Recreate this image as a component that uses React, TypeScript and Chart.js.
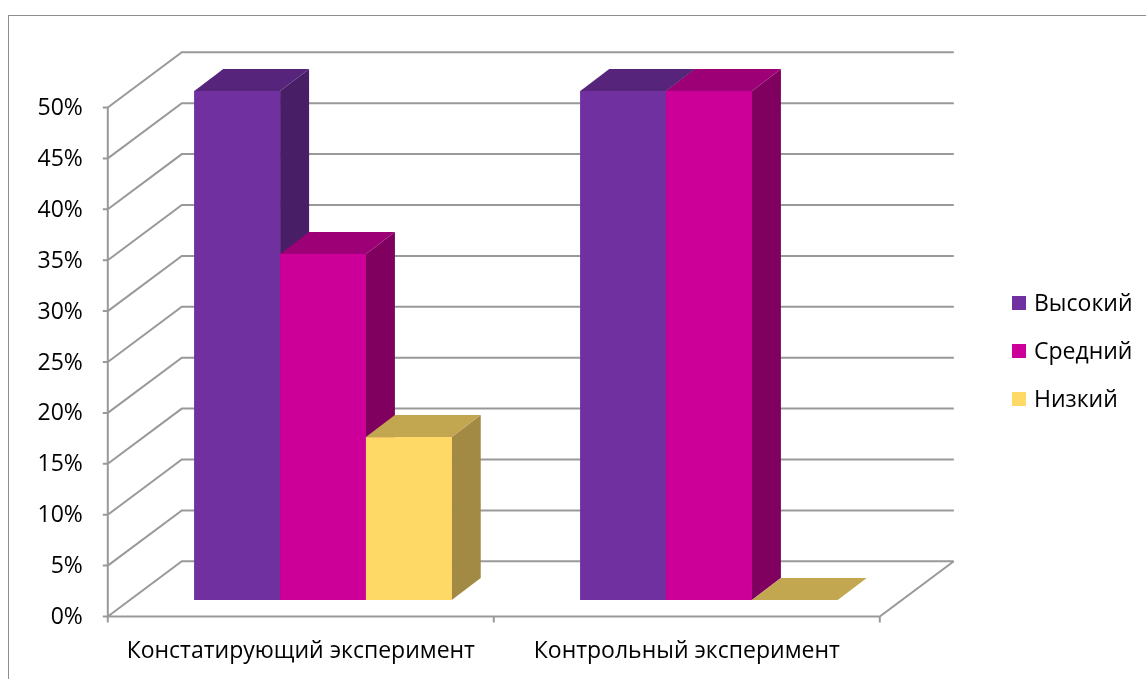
import React, { useEffect, useRef } from "react";
import { Chart, registerables } from "chart.js";

Chart.register(...registerables);

const categories: string[] = ["Констатирующий эксперимент", "Контрольный эксперимент"];
const seriesNames: string[] = ["Высокий", "Средний", "Низкий"];
const highValues: number[] = [0.5, 0.5];
const midValues: number[] = [0.34, 0.5];
const lowValues: number[] = [0.16, 0];
const yTicks: number[] = [0, 0.05, 0.1, 0.15, 0.2, 0.25, 0.3, 0.35, 0.4, 0.45, 0.5];
const yTickLabels: string[] = ["0%", "5%", "10%", "15%", "20%", "25%", "30%", "35%", "40%", "45%", "50%"];

const frontColors = ["#7030A0", "#CC0099", "#FFD966"];
const topColors = ["#56257B", "#9D0076", "#C2A650"];
const sideColors = ["#481E67", "#80005F", "#A28A45"];

const FONT = '23px "Open Sans", "Noto Sans", sans-serif';
const GRID = "#999999";
// depth geometry
const FRONT_DX = -22.2;
const FRONT_DY = 16.5;
const BACK_DX = 51.8;
const BACK_DY = -38.7;
const BAR_DX = 29;
const BAR_DY = 22;

const threeD = {
  id: "threeD",
  beforeDatasetsDraw(chart: any) {
    const { ctx, scales } = chart;
    const ys = scales.y;
    const xs = scales.x;
    const area = chart.chartArea;
    const fl = area.left + FRONT_DX;
    const fr = area.right + FRONT_DX;
    const bl = area.left + BACK_DX;
    const br = area.right + BACK_DX;
    ctx.save();
    // frame
    ctx.strokeStyle = "#8e8e8e";
    ctx.lineWidth = 1;
    ctx.strokeRect(8.5, 15.5, 1300, 800);

    ctx.strokeStyle = GRID;
    ctx.lineWidth = 2;
    ctx.beginPath();
    yTicks.forEach((v) => {
      const p = ys.getPixelForValue(v);
      const yf = p + FRONT_DY;
      const yb = p + BACK_DY;
      ctx.moveTo(fl, yf);
      ctx.lineTo(bl, yb);
      ctx.lineTo(br, yb);
      // tick mark
      ctx.moveTo(fl - 5, yf);
      ctx.lineTo(fl, yf);
    });
    const y0 = ys.getPixelForValue(0);
    const yTop = ys.getPixelForValue(yTicks[yTicks.length - 1]);
    // floor
    ctx.moveTo(fl, y0 + FRONT_DY);
    ctx.lineTo(fr, y0 + FRONT_DY);
    ctx.lineTo(br, y0 + BACK_DY);
    // vertical axis
    ctx.moveTo(fl, yTop + FRONT_DY);
    ctx.lineTo(fl, y0 + FRONT_DY + 5);
    // category ticks
    const n = categories.length;
    for (let i = 0; i <= n; i++) {
      const x = fl + ((fr - fl) * i) / n;
      ctx.moveTo(x, y0 + FRONT_DY);
      ctx.lineTo(x, y0 + FRONT_DY + 6);
    }
    ctx.stroke();

    // tick labels
    ctx.fillStyle = "#000";
    ctx.font = FONT;
    ctx.textAlign = "right";
    ctx.textBaseline = "middle";
    yTicks.forEach((v, i) => {
      const p = ys.getPixelForValue(v) + FRONT_DY;
      ctx.fillText(yTickLabels[i], fl - 25, p + 1);
    });
    // category labels
    ctx.textAlign = "center";
    categories.forEach((c, i) => {
      const x = xs.getPixelForValue(i) + FRONT_DX;
      ctx.fillText(c, x, y0 + FRONT_DY + 35);
    });
    // legend
    ctx.textAlign = "left";
    seriesNames.forEach((s, i) => {
      const cy = 303 + i * 48;
      ctx.fillStyle = frontColors[i];
      ctx.fillRect(1012, cy - 7, 14, 14);
      ctx.fillStyle = "#000";
      ctx.fillText(s, 1034, cy + 1);
    });
    ctx.restore();
  },
  afterDatasetsDraw(chart: any) {
    const { ctx } = chart;
    const nDs = chart.data.datasets.length;
    ctx.save();
    for (let i = 0; i < categories.length; i++) {
      for (let d = 0; d < nDs; d++) {
        const meta = chart.getDatasetMeta(d);
        const el = meta.data[i];
        const { x, y, base, width } = el.getProps(["x", "y", "base", "width"], true);
        const l = x - width / 2;
        const r = x + width / 2;
        // side
        ctx.fillStyle = sideColors[d];
        ctx.beginPath();
        ctx.moveTo(r, y);
        ctx.lineTo(r + BAR_DX, y - BAR_DY);
        ctx.lineTo(r + BAR_DX, base - BAR_DY);
        ctx.lineTo(r, base);
        ctx.closePath();
        ctx.fill();
        // top
        ctx.fillStyle = topColors[d];
        ctx.beginPath();
        ctx.moveTo(l, y);
        ctx.lineTo(l + BAR_DX, y - BAR_DY);
        ctx.lineTo(r + BAR_DX, y - BAR_DY);
        ctx.lineTo(r, y);
        ctx.closePath();
        ctx.fill();
        // front
        ctx.fillStyle = frontColors[d];
        ctx.fillRect(l, y, width, base - y);
      }
    }
    ctx.restore();
  },
};

export default function App() {
  const ref = useRef<HTMLCanvasElement>(null);
  useEffect(() => {
    if (!ref.current) return;
    const chart = new Chart(ref.current, {
      type: "bar",
      data: {
        labels: categories,
        datasets: [
          { label: seriesNames[0], data: highValues, backgroundColor: frontColors[0] },
          { label: seriesNames[1], data: midValues, backgroundColor: frontColors[1] },
          { label: seriesNames[2], data: lowValues, backgroundColor: frontColors[2] },
        ],
      },
      options: {
        responsive: false,
        animation: false,
        devicePixelRatio: 1,
        layout: { padding: { left: 130, right: 244, top: 91, bottom: 79 } },
        datasets: { bar: { categoryPercentage: 0.667, barPercentage: 1 } },
        scales: {
          x: { display: false },
          y: { display: false, min: 0, max: 0.5 },
        },
        plugins: { legend: { display: false }, tooltip: { enabled: false } },
      },
      plugins: [threeD],
    });
    return () => chart.destroy();
  }, []);
  return (
    <div style={{ position: "absolute", left: 0, top: 0, width: 1146, height: 679, background: "#fff" }}>
      <canvas ref={ref} width={1146} height={679} style={{ display: "block" }} />
    </div>
  );
}
